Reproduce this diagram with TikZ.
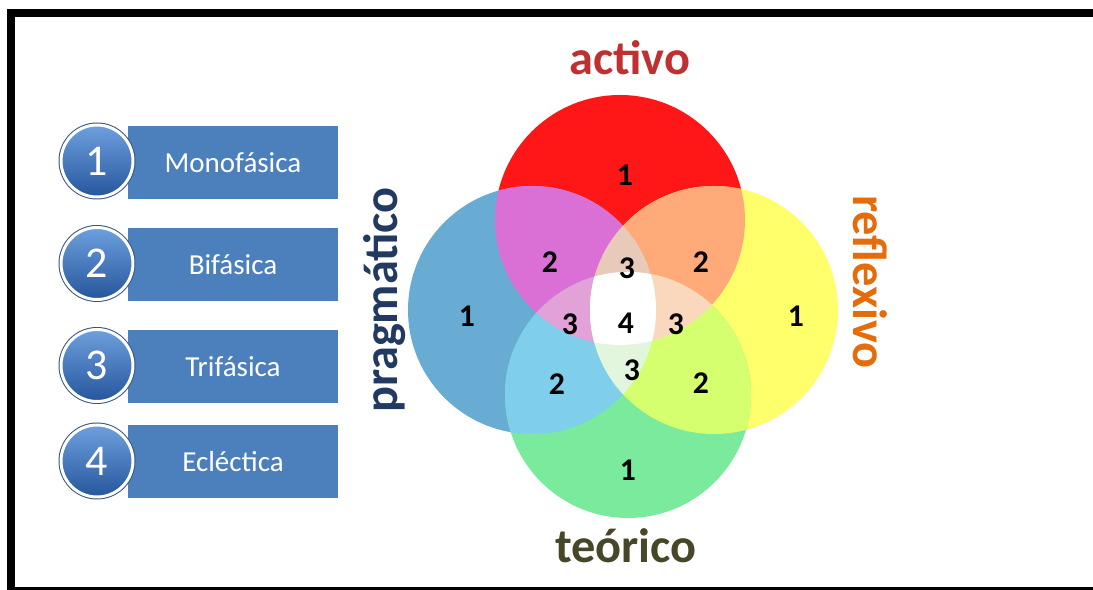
\documentclass[tikz,border=0pt]{standalone}
\usepackage{fontspec}
\setmainfont{Carlito}
\usepackage{tikz}
\usetikzlibrary{positioning}

\definecolor{listblue}{RGB}{76,128,189}
\definecolor{numtop}{RGB}{110,160,222}
\definecolor{numbot}{RGB}{38,86,156}
\definecolor{ringblue}{RGB}{52,84,132}
\definecolor{actred}{RGB}{255,22,22}
\definecolor{pragblue}{RGB}{104,172,212}
\definecolor{reflyellow}{RGB}{255,255,108}
\definecolor{teogreen}{RGB}{122,234,156}
\definecolor{apmix}{RGB}{218,112,214}
\definecolor{armix}{RGB}{255,170,120}
\definecolor{ptmix}{RGB}{126,206,236}
\definecolor{rtmix}{RGB}{214,255,112}
\definecolor{aprmix}{RGB}{232,202,186}
\definecolor{aptmix}{RGB}{226,162,216}
\definecolor{artmix}{RGB}{250,216,190}
\definecolor{prtmix}{RGB}{226,246,222}
\definecolor{activocol}{RGB}{192,48,48}
\definecolor{pragcol}{RGB}{34,58,98}
\definecolor{reflcol}{RGB}{228,108,10}
\definecolor{teocol}{RGB}{70,70,40}

\begin{document}
\begin{tikzpicture}[
x=0.02cm, y=-0.02cm,
listbox/.style={fill=listblue, minimum width=4.2cm, minimum height=1.47cm, inner sep=0pt,
  text=white, font=\fontsize{16.5}{18}\selectfont},
listnum/.style={circle, minimum size=1.44cm, inner sep=0pt, top color=numtop, bottom color=numbot,
  preaction={draw=ringblue, line width=0.1cm}, draw=white, line width=0.06cm,
  text=white, font=\fontsize{25}{27}\selectfont},
vnum/.style={font=\fontsize{18}{20}\selectfont\bfseries, inner sep=1pt},
lbl/.style={font=\fontsize{27.5}{30}\selectfont\bfseries, inner sep=0pt}
]
    \useasboundingbox (0,0) rectangle (1093,590);
    \fill[white] (-20,-20) rectangle (1120,610);

    % Draw frame
    \draw[line width=0.16cm] (1120,13) -- (11,13) -- (11,591) -- (1120,591);

    % Draw list
    \node[listbox] (box1) at (233,162.5) {Monofásica};
    \node[listbox] (box2) at (233,264.5) {Bifásica};
    \node[listbox] (box3) at (233,366.5) {Trifásica};
    \node[listbox] (box4) at (233,461.5) {Ecléctica};
    \node[listnum] (num1) at (97,161) {1};
    \node[listnum] (num2) at (97,263.5) {2};
    \node[listnum] (num3) at (97,365.5) {3};
    \node[listnum] (num4) at (97,461) {4};

    % Draw circles
    \coordinate (cA) at (620,220);
    \coordinate (cP) at (532,310);
    \coordinate (cR) at (714,310);
    \coordinate (cT) at (628,395);
    \fill[actred] (cA) circle [radius=125];
    \fill[pragblue] (cP) circle [radius=124];
    \fill[reflyellow] (cR) circle [radius=124];
    \fill[teogreen] (cT) circle [radius=123];

    % two styles
    \begin{scope}
      \clip (cA) circle [radius=125];
      \fill[apmix] (cP) circle [radius=124];
      \fill[armix] (cR) circle [radius=124];
    \end{scope}
    \begin{scope}
      \clip (cT) circle [radius=123];
      \fill[ptmix] (cP) circle [radius=124];
      \fill[rtmix] (cR) circle [radius=124];
    \end{scope}

    % three styles
    \begin{scope}
      \clip (cA) circle [radius=125];
      \clip (cP) circle [radius=124];
      \fill[aprmix] (cR) circle [radius=124];
      \fill[aptmix] (cT) circle [radius=123];
    \end{scope}
    \begin{scope}
      \clip (cT) circle [radius=123];
      \clip (cR) circle [radius=124];
      \fill[artmix] (cA) circle [radius=125];
      \fill[prtmix] (cP) circle [radius=124];
    \end{scope}

    % four styles
    \begin{scope}
      \clip (cA) circle [radius=125];
      \clip (cP) circle [radius=124];
      \clip (cR) circle [radius=124];
      \fill[white] (cT) circle [radius=123];
    \end{scope}

    % Numbers
    \node[vnum] (a1) at (625,175) {1};
    \node[vnum] (p1) at (467,316) {1};
    \node[vnum] (r1) at (796,316) {1};
    \node[vnum] (t1) at (628,470) {1};
    \node[vnum] (ap2) at (550,262) {2};
    \node[vnum] (ar2) at (701,262) {2};
    \node[vnum] (pt2) at (557,384) {2};
    \node[vnum] (rt2) at (701,383) {2};
    \node[vnum] (apr3) at (627,268) {3};
    \node[vnum] (apt3) at (570,324) {3};
    \node[vnum] (art3) at (676,324) {3};
    \node[vnum] (prt3) at (632,370) {3};
    \node[vnum] (all4) at (626,323) {4};

    % Labels
    \node[lbl, text=activocol] (activo) at (630,58) {activo};
    \node[lbl, text=pragcol, rotate=90] (pragmatico) at (385,300) {pragmático};
    \node[lbl, text=reflcol, rotate=-90] (reflexivo) at (870,282) {reflexivo};
    \node[lbl, text=teocol] (teorico) at (626,546) {teórico};
\end{tikzpicture}
\end{document}
